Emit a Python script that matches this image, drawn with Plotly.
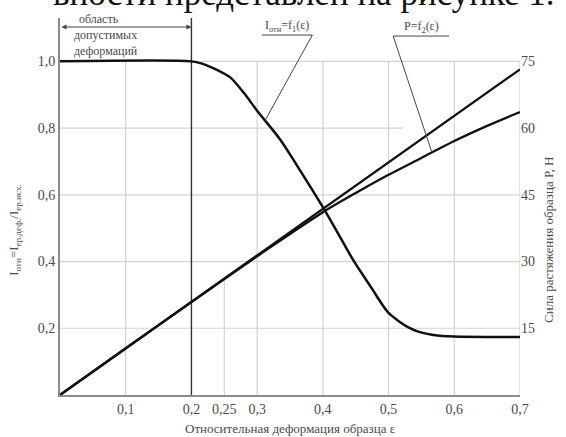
import numpy as np
import plotly.graph_objects as go

# ---------------- data ----------------
eps_I = [0.0, 0.2, 0.215, 0.233, 0.259, 0.28, 0.3, 0.335, 0.36, 0.4, 0.42, 0.446, 0.476,
         0.488, 0.5, 0.515, 0.528, 0.545, 0.568, 0.6, 0.7]
I_rel = [1.0, 1.0, 0.994, 0.98, 0.952, 0.905, 0.852, 0.766, 0.69, 0.563, 0.495, 0.405, 0.315,
         0.278, 0.246, 0.222, 0.205, 0.19, 0.18, 0.175, 0.174]

eps_Pline = [0.0, 0.7]
P_line = [0.0, 73.2]

eps_Pcurve = [0.0, 0.1, 0.2, 0.3, 0.35, 0.4, 0.45, 0.5, 0.55, 0.6, 0.65, 0.7]
P_curve = [0.0, 10.5, 20.9, 31.2, 36.2, 41.1, 45.4, 49.5, 53.3, 57.1, 60.5, 63.6]

x_ticks = [0.1, 0.2, 0.25, 0.3, 0.4, 0.5, 0.6, 0.7]
x_ticktext = ["0,1", "0,2", "0,25", "0,3", "0,4", "0,5", "0,6", "0,7"]
y_ticks = [0.2, 0.4, 0.6, 0.8, 1.0]
y_ticktext = ["0,2", "0,4", "0,6", "0,8", "1,0"]
p_ticks = [15, 30, 45, 60, 75]
p_ticktext = ["15", "30", "45", "60", "75"]

vgrid = [0.1, 0.3, 0.4, 0.5, 0.6, 0.7]
hgrid = [0.2, 0.4, 0.6]

Y_TOP = 1.13
P_MAX = 75.0
P_TOP = P_MAX * Y_TOP

SERIF = "Liberation Serif, Times New Roman, DejaVu Serif, serif"
TXT = "#4a4a4a"
GRID = "#d2d2d2"

fig = go.Figure()
fig.add_trace(go.Scatter(x=eps_I, y=I_rel, mode="lines",
                         line=dict(color="#111111", width=2.5, shape="spline", smoothing=0.8),
                         showlegend=False, hoverinfo="skip"))
fig.add_trace(go.Scatter(x=eps_Pline, y=P_line, mode="lines", yaxis="y2",
                         line=dict(color="#111111", width=2.3),
                         showlegend=False, hoverinfo="skip"))
fig.add_trace(go.Scatter(x=eps_Pcurve, y=P_curve, mode="lines", yaxis="y2",
                         line=dict(color="#111111", width=2.3, shape="spline", smoothing=0.8),
                         showlegend=False, hoverinfo="skip"))

shapes = []
for xv in vgrid:
    shapes.append(dict(type="line", xref="x", yref="y", x0=xv, x1=xv, y0=0, y1=1.0,
                       line=dict(color=GRID, width=1.2), layer="below"))
# 0.25 drop line up to the P line
p025 = float(np.interp(0.25, eps_Pline, P_line)) / P_MAX
shapes.append(dict(type="line", xref="x", yref="y", x0=0.25, x1=0.25, y0=0, y1=p025,
                   line=dict(color=GRID, width=1.2), layer="below"))
for yv in hgrid:
    shapes.append(dict(type="line", xref="x", yref="y", x0=0, x1=0.7, y0=yv, y1=yv,
                       line=dict(color=GRID, width=1.2), layer="below"))
shapes.append(dict(type="line", xref="x", yref="y", x0=0, x1=0.522, y0=0.8, y1=0.8,
                   line=dict(color=GRID, width=1.2), layer="below"))
shapes.append(dict(type="line", xref="x", yref="y", x0=0.2, x1=0.7, y0=1.0, y1=1.0,
                   line=dict(color=GRID, width=1.2), layer="below"))
# boundary of allowed deformation region
shapes.append(dict(type="line", xref="x", yref="y", x0=0.2, x1=0.2, y0=0, y1=Y_TOP,
                   line=dict(color="#333333", width=1.4), layer="below"))

# label underlines and leaders
i_leader_x = 0.312
i_leader_y = float(np.interp(i_leader_x, eps_I, I_rel))
shapes.append(dict(type="line", xref="x", yref="y", x0=0.307, x1=0.384, y0=1.079, y1=1.079,
                   line=dict(color="#444444", width=1)))
shapes.append(dict(type="line", xref="x", yref="y", x0=0.384, x1=i_leader_x, y0=1.079, y1=i_leader_y,
                   line=dict(color="#444444", width=1)))
p_leader_x = 0.566
p_leader_y = float(np.interp(p_leader_x, eps_Pcurve, P_curve)) / P_MAX
shapes.append(dict(type="line", xref="x", yref="y", x0=0.507, x1=0.592, y0=1.076, y1=1.076,
                   line=dict(color="#444444", width=1)))
shapes.append(dict(type="line", xref="x", yref="y", x0=0.507, x1=p_leader_x, y0=1.076, y1=p_leader_y,
                   line=dict(color="#444444", width=1)))

annotations = [
    # double arrow
    dict(x=0.2, y=1.103, ax=0.0, ay=1.103, xref="x", yref="y", axref="x", ayref="y",
         text="", showarrow=True, arrowhead=2, arrowside="end+start", arrowsize=1,
         arrowwidth=1, arrowcolor="#444444"),
    dict(x=0.026, y=Y_TOP - 0.002, xref="x", yref="y", text="область", showarrow=False,
         xanchor="left", yanchor="middle", font=dict(family=SERIF, size=12, color=TXT)),
    dict(x=0.018, y=1.079, xref="x", yref="y", text="допустимых", showarrow=False,
         xanchor="left", yanchor="middle", font=dict(family=SERIF, size=12, color=TXT)),
    dict(x=0.018, y=1.030, xref="x", yref="y", text="деформаций", showarrow=False,
         xanchor="left", yanchor="middle", font=dict(family=SERIF, size=12, color=TXT)),
    dict(x=0.346, y=1.107, xref="x", yref="y", text="I<sub>отн</sub>=f<sub>1</sub>(ε)",
         showarrow=False, xanchor="center", yanchor="middle",
         font=dict(family=SERIF, size=12, color=TXT)),
    dict(x=0.55, y=1.104, xref="x", yref="y", text="P=f<sub>2</sub>(ε)",
         showarrow=False, xanchor="center", yanchor="middle",
         font=dict(family=SERIF, size=12, color=TXT)),
    # axis titles
    dict(x=-0.098, y=0.438, xref="paper", yref="paper", textangle=-90,
         text="I<sub>отн</sub>=I<sub>ер.деф.</sub>/I<sub>ер.исх.</sub>", showarrow=False,
         xanchor="center", yanchor="middle", font=dict(family=SERIF, size=13, color=TXT)),
    dict(x=1.062, y=0.41, xref="paper", yref="paper", textangle=-90,
         text="Сила растяжения образца Р, Н", showarrow=False,
         xanchor="center", yanchor="middle", font=dict(family=SERIF, size=13, color=TXT)),
    dict(x=0.5, y=-0.088, xref="paper", yref="paper",
         text="Относительная деформация образца ε", showarrow=False,
         xanchor="center", yanchor="middle", font=dict(family=SERIF, size=13, color=TXT)),
    # cropped line of document text above the figure
    dict(x=1.08, y=1.066, xref="paper", yref="paper",
         text="вности представлен на рисунке 1.", showarrow=False,
         xanchor="right", yanchor="middle", font=dict(family=SERIF, size=35, color="#111111")),
]

fig.update_layout(
    width=566, height=437,
    margin=dict(l=60, r=46, t=18, b=42),
    paper_bgcolor="white", plot_bgcolor="white",
    showlegend=False,
    xaxis=dict(range=[0, 0.7], tickvals=x_ticks, ticktext=x_ticktext, showgrid=False,
               zeroline=False, showline=True, linecolor="#8a8a8a", linewidth=2,
               ticks="", tickfont=dict(family=SERIF, size=14, color=TXT)),
    yaxis=dict(range=[0, Y_TOP], tickvals=y_ticks, ticktext=y_ticktext, showgrid=False,
               zeroline=False, showline=True, linecolor="#8a8a8a", linewidth=2,
               ticks="", tickfont=dict(family=SERIF, size=14, color=TXT)),
    yaxis2=dict(range=[0, P_TOP], tickvals=p_ticks, ticktext=p_ticktext, overlaying="y",
                side="right", showgrid=False, zeroline=False, showline=False, ticks="",
                tickfont=dict(family=SERIF, size=14, color=TXT)),
    shapes=shapes,
    annotations=annotations,
)

fig.write_html("out.html", config={"displayModeBar": False},
               post_script="document.body.style.margin='0';")
